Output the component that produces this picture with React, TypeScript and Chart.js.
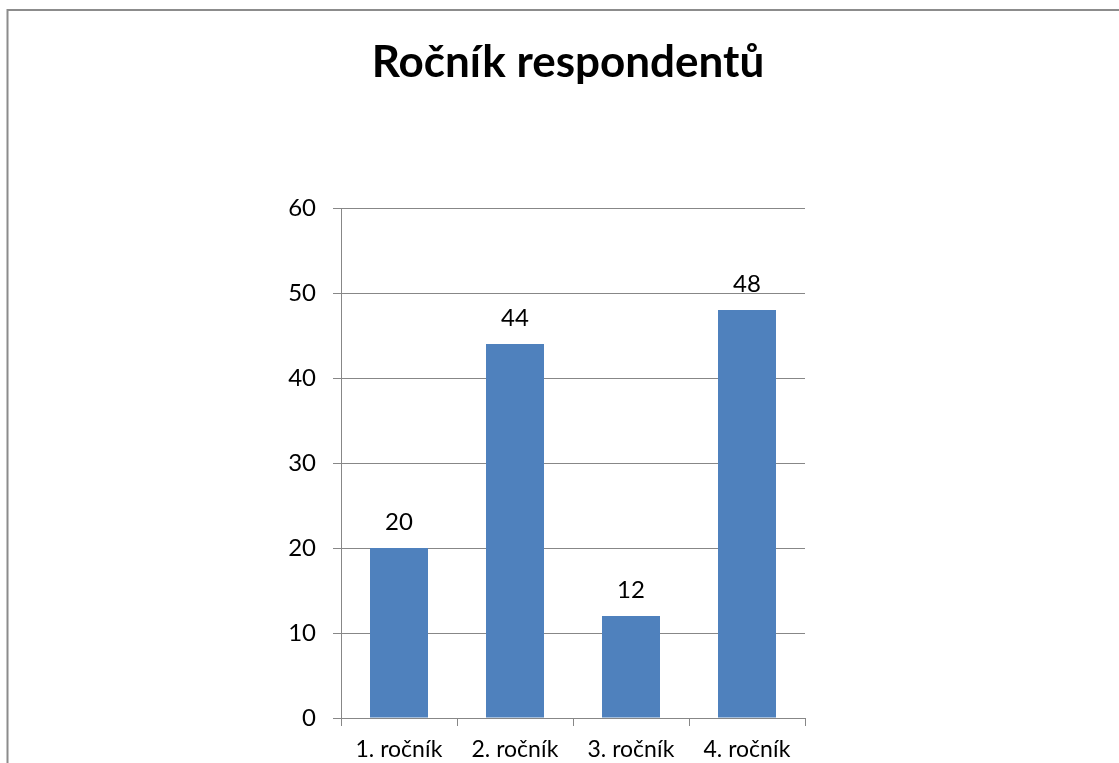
import React, { useEffect, useRef } from "react";
import { Chart, registerables } from "chart.js";

Chart.register(...registerables);

const TITLE = "Ročník respondentů";
const categories = ["1. ročník", "2. ročník", "3. ročník", "4. ročník"];
const values = [20, 44, 12, 48];
const yTicks = [0, 10, 20, 30, 40, 50, 60];

const FONT = "Lato, 'Open Sans', sans-serif";
const GRID = "#878787";

const framePlugin = {
  id: "frame",
  beforeDraw(chart: any) {
    const ctx = chart.ctx;
    ctx.save();
    ctx.fillStyle = "#ffffff";
    ctx.fillRect(0, 0, chart.width, chart.height);
    ctx.strokeStyle = "#8c8c8c";
    ctx.lineWidth = 2;
    ctx.beginPath();
    ctx.moveTo(7.5, chart.height);
    ctx.lineTo(7.5, 10);
    ctx.lineTo(chart.width, 10);
    ctx.stroke();
    ctx.fillStyle = "#000000";
    ctx.font = `bold 44px ${FONT}`;
    ctx.textAlign = "center";
    ctx.textBaseline = "middle";
    ctx.fillText(TITLE, 568, 63);
    ctx.restore();
  },
};

const labelPlugin = {
  id: "valueLabels",
  afterDatasetsDraw(chart: any) {
    const ctx = chart.ctx;
    const meta = chart.getDatasetMeta(0);
    ctx.save();
    ctx.fillStyle = "#000000";
    ctx.font = `24px ${FONT}`;
    ctx.textAlign = "center";
    ctx.textBaseline = "middle";
    meta.data.forEach((bar: any, i: number) => {
      ctx.fillText(String(values[i]), bar.x, bar.y - 26);
    });
    ctx.restore();
  },
};

export default function App() {
  const ref = useRef<HTMLCanvasElement | null>(null);
  useEffect(() => {
    if (!ref.current) return;
    const chart = new Chart(ref.current, {
      type: "bar",
      data: {
        labels: categories,
        datasets: [
          {
            data: values,
            backgroundColor: "#4F81BD",
            borderWidth: 0,
            categoryPercentage: 1,
            barPercentage: 0.5,
          },
        ],
      },
      options: {
        responsive: false,
        animation: false,
        devicePixelRatio: 1,
        layout: { padding: { left: 0, right: 314, top: 208, bottom: 0 } },
        plugins: {
          legend: { display: false },
          title: { display: false },
          tooltip: { enabled: false },
        },
        scales: {
          x: {
            offset: true,
            grid: {
              offset: true,
              drawOnChartArea: false,
              drawTicks: true,
              tickLength: 8,
              color: GRID,
              lineWidth: 1,
            },
            border: { display: true, color: GRID, width: 1 },
            ticks: {
              color: "#000000",
              font: { family: FONT, size: 23 },
              padding: 10,
              maxRotation: 0,
              autoSkip: false,
            },
            afterFit: (scale: any) => {
              scale.height = 45;
            },
          },
          y: {
            min: 0,
            max: 60,
            afterBuildTicks: (scale: any) => {
              scale.ticks = yTicks.map((v) => ({ value: v }));
            },
            grid: {
              color: GRID,
              lineWidth: 1,
              tickLength: 8,
            },
            border: { display: true, color: GRID, width: 1 },
            ticks: {
              color: "#000000",
              font: { family: FONT, size: 24 },
              padding: 17,
            },
            afterFit: (scale: any) => {
              scale.width = 341;
            },
          },
        },
      },
      plugins: [framePlugin, labelPlugin],
    });
    return () => chart.destroy();
  }, []);
  return (
    <div style={{ position: "absolute", left: 0, top: 0, width: 1119, height: 763 }}>
      <canvas ref={ref} width={1119} height={763} style={{ display: "block" }} />
    </div>
  );
}
